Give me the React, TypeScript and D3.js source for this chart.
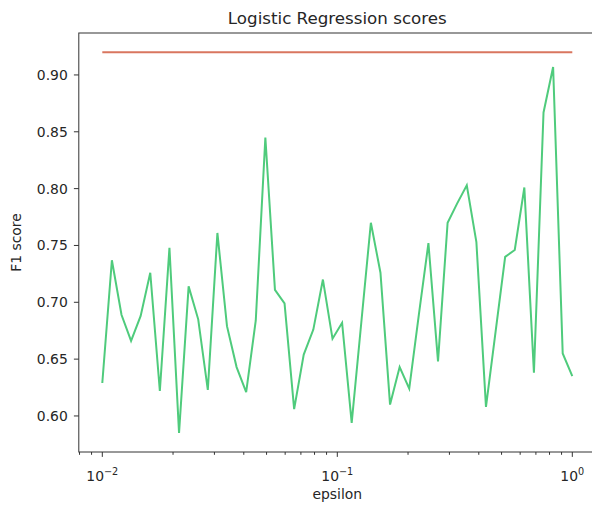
import React, { useEffect, useRef } from 'react';
import * as d3 from 'd3';

// epsilon grid (logspace from 1e-2 to 1e0, 50 points)
const epsilons = [
  0.01, 0.010985, 0.012068, 0.013257, 0.014563, 0.015999, 0.017575, 0.019307, 0.02121, 0.0233,
  0.025595, 0.028118, 0.030888, 0.033932, 0.037276, 0.040949, 0.044984, 0.049417, 0.054287, 0.059636,
  0.065513, 0.071969, 0.07906, 0.086851, 0.09541, 0.104811, 0.11514, 0.126486, 0.13895, 0.152642,
  0.167683, 0.184207, 0.202359, 0.2223, 0.244205, 0.26827, 0.294705, 0.323746, 0.355648, 0.390694,
  0.429193, 0.471487, 0.517947, 0.568987, 0.625055, 0.686649, 0.754312, 0.828643, 0.910298, 1.0,
];

const privateScores = [
  0.629, 0.737, 0.689, 0.666, 0.688, 0.726, 0.622, 0.748, 0.585, 0.714,
  0.685, 0.623, 0.761, 0.679, 0.643, 0.621, 0.684, 0.845, 0.711, 0.699,
  0.606, 0.654, 0.676, 0.72, 0.668, 0.682, 0.594, 0.682, 0.77, 0.726,
  0.61, 0.643, 0.624, 0.689, 0.752, 0.648, 0.77, 0.787, 0.803, 0.753,
  0.608, 0.674, 0.74, 0.746, 0.801, 0.638, 0.867, 0.907, 0.655, 0.635,
];

const baselineScore = 0.92;

const yTicks = [0.6, 0.65, 0.7, 0.75, 0.8, 0.85, 0.9];
const xMajor = [0.01, 0.1, 1];
const xMajorExp = ['\u22122', '\u22121', '0'];

const W = 592;
const H = 510;
const left = 78.8;
const right = 595.8;
const top = 33;
const bottom = 452;
const FONT = '"DejaVu Sans", sans-serif';

export default function App() {
  const ref = useRef<SVGSVGElement>(null);

  useEffect(() => {
    document.body.style.margin = '0';
    const svg = d3.select(ref.current);
    svg.selectAll('*').remove();

    const x = d3.scaleLog().domain([Math.pow(10, -2.1), Math.pow(10, 0.1)]).range([left, right]);
    const y = d3.scaleLinear().domain([0.5683, 0.9369]).range([bottom, top]);

    svg.append('rect').attr('width', W).attr('height', H).attr('fill', '#fff');

    // lines
    const line = d3.line<number>()
      .x((_, i) => x(epsilons[i]))
      .y(d => y(d));

    svg.append('path')
      .datum(epsilons.map(() => baselineScore))
      .attr('d', line)
      .attr('fill', 'none')
      .attr('stroke', '#d9765f')
      .attr('stroke-width', 2);

    svg.append('path')
      .datum(privateScores)
      .attr('d', line)
      .attr('fill', 'none')
      .attr('stroke', '#4fcb7c')
      .attr('stroke-width', 2);

    // frame
    svg.append('rect')
      .attr('x', left).attr('y', top)
      .attr('width', right - left).attr('height', bottom - top)
      .attr('fill', 'none').attr('stroke', '#333').attr('stroke-width', 1);

    // y axis
    const gy = svg.append('g').attr('font-family', FONT).attr('font-size', 13.9).attr('fill', '#262626');
    yTicks.forEach(t => {
      gy.append('line')
        .attr('x1', left - 4.9).attr('x2', left)
        .attr('y1', y(t)).attr('y2', y(t))
        .attr('stroke', '#333');
      gy.append('text')
        .attr('x', left - 11)
        .attr('y', y(t))
        .attr('dy', '0.36em')
        .attr('text-anchor', 'end')
        .text(d3.format('.2f')(t));
    });

    // x axis minor ticks
    const minor: number[] = [];
    [0.001, 0.01, 0.1].forEach(dec => {
      for (let k = 2; k <= 9; k++) {
        const v = dec * k;
        if (v >= x.domain()[0] && v <= x.domain()[1]) minor.push(v);
      }
    });
    svg.selectAll('line.minor')
      .data(minor)
      .enter()
      .append('line')
      .attr('class', 'minor')
      .attr('x1', d => x(d)).attr('x2', d => x(d))
      .attr('y1', bottom).attr('y2', bottom + 2.8)
      .attr('stroke', '#333');

    const gx = svg.append('g').attr('font-family', FONT).attr('font-size', 13.9).attr('fill', '#262626');
    xMajor.forEach((t, i) => {
      gx.append('line')
        .attr('x1', x(t)).attr('x2', x(t))
        .attr('y1', bottom).attr('y2', bottom + 4.9)
        .attr('stroke', '#333');
      const txt = gx.append('text')
        .attr('x', x(t))
        .attr('y', bottom + 29)
        .attr('text-anchor', 'middle');
      txt.append('tspan').text('10');
      txt.append('tspan')
        .attr('font-size', 9.7)
        .attr('dy', -6)
        .text(xMajorExp[i]);
    });

    // labels
    svg.append('text')
      .attr('x', (left + right) / 2)
      .attr('y', 499)
      .attr('text-anchor', 'middle')
      .attr('font-family', FONT).attr('font-size', 13.9).attr('fill', '#262626')
      .text('epsilon');

    svg.append('text')
      .attr('transform', `translate(21, ${(top + bottom) / 2}) rotate(-90)`)
      .attr('text-anchor', 'middle')
      .attr('font-family', FONT).attr('font-size', 13.9).attr('fill', '#262626')
      .text('F1 score');

    svg.append('text')
      .attr('x', (left + right) / 2)
      .attr('y', 24)
      .attr('text-anchor', 'middle')
      .attr('font-family', FONT).attr('font-size', 16.7).attr('fill', '#262626')
      .text('Logistic Regression scores');
  }, []);

  return (
    <svg
      ref={ref}
      width={W}
      height={H}
      style={{ position: 'fixed', left: 0, top: 0, display: 'block' }}
    />
  );
}
